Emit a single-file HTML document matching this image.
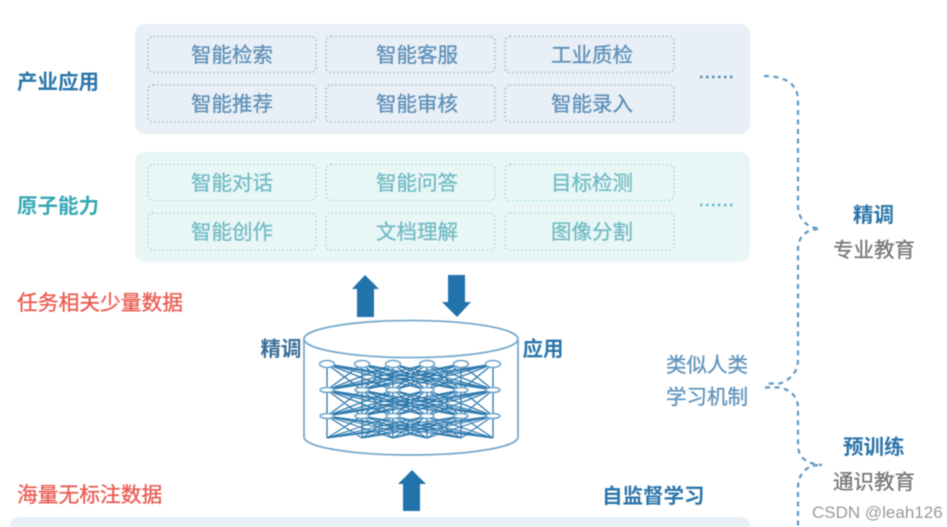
<!DOCTYPE html>
<html lang="zh"><head><meta charset="utf-8"><title>预训练与精调</title>
<style>
html,body{margin:0;padding:0;background:#fff;width:947px;height:527px;overflow:hidden}
svg{display:block;filter:blur(.5px)}
text{font-family:"Liberation Sans","Noto Sans CJK SC",sans-serif;font-size:20.5px;stroke-width:.3px}
.b{font-weight:700}
.m{text-anchor:middle}
.c1{fill:#5f90b8;stroke:#5f90b8}.c2{fill:#72bcc4;stroke:#72bcc4}
.blue{fill:#2c75ab}.teal{fill:#35a8b4}.red{fill:#ea5a50;stroke:#ea5a50;font-size:20.75px}.gray{fill:#777;stroke:#777}.lb{fill:#5f93bb;stroke:#5f93bb}
.cell1{fill:none;stroke:#9fbdd5;stroke-width:1.6;stroke-dasharray:1.5 2.5}
.cell2{fill:none;stroke:#a2dadd;stroke-width:1.6;stroke-dasharray:1.5 2.5}
.brace{fill:none;stroke:#6099c2;stroke-width:2.2;stroke-dasharray:5 4.500}
</style></head><body>
<svg width="947" height="527" viewBox="0 0 947 527" xmlns="http://www.w3.org/2000/svg">
<defs>
<path id="fan" fill="none" stroke="#2f7aae" stroke-width="1.300" d="M327 0L327 26M327 0L362 26M327 0L393 26M327 0L427 26M327 0L461 26M327 0L493 26M362 0L327 26M362 0L362 26M362 0L393 26M362 0L427 26M362 0L461 26M362 0L493 26M393 0L327 26M393 0L362 26M393 0L393 26M393 0L427 26M393 0L461 26M393 0L493 26M427 0L327 26M427 0L362 26M427 0L393 26M427 0L427 26M427 0L461 26M427 0L493 26M461 0L327 26M461 0L362 26M461 0L393 26M461 0L427 26M461 0L461 26M461 0L493 26M493 0L327 26M493 0L362 26M493 0L393 26M493 0L427 26M493 0L461 26M493 0L493 26"/>
</defs>
<rect width="947" height="527" fill="#fff"/>

<rect x="135" y="24" width="615" height="110" rx="10" fill="#e8eff6"/>
<rect x="135" y="152" width="615" height="110" rx="10" fill="#e9f6f6"/>
<rect x="10" y="517" width="740" height="20" rx="10" fill="#e8eff6"/>

<g class="cell1">
<rect x="148" y="36.500" width="168" height="36" rx="5"/><rect x="326" y="36.500" width="169" height="36" rx="5"/><rect x="505" y="36.500" width="169" height="36" rx="5"/>
<rect x="148" y="85" width="168" height="37" rx="5"/><rect x="326" y="85" width="169" height="37" rx="5"/><rect x="505" y="85" width="169" height="37" rx="5"/>
</g>
<g class="cell2">
<rect x="148" y="164.500" width="168" height="36" rx="5"/><rect x="326" y="164.500" width="169" height="36" rx="5"/><rect x="505" y="164.500" width="169" height="36" rx="5"/>
<rect x="148" y="213" width="168" height="37" rx="5"/><rect x="326" y="213" width="169" height="37" rx="5"/><rect x="505" y="213" width="169" height="37" rx="5"/>
</g>

<g class="c1 m">
<text x="232" y="62">智能检索</text><text x="417" y="62">智能客服</text><text x="592" y="62">工业质检</text>
<text x="232" y="111">智能推荐</text><text x="417" y="111">智能审核</text><text x="592" y="111">智能录入</text>
</g>
<g class="c2 m">
<text x="232" y="190">智能对话</text><text x="417" y="190">智能问答</text><text x="592" y="190">目标检测</text>
<text x="232" y="239">智能创作</text><text x="417" y="239">文档理解</text><text x="592" y="239">图像分割</text>
</g>

<line x1="700" y1="77" x2="735" y2="77" stroke="#5d87ab" stroke-width="2.500" stroke-dasharray="2.500 3.500"/>
<line x1="700" y1="205" x2="735" y2="205" stroke="#5fbcc8" stroke-width="2.500" stroke-dasharray="2.500 3.500"/>

<text class="b blue" x="17" y="89">产业应用</text>
<text class="b teal" x="17" y="213">原子能力</text>
<text class="red" x="17" y="310">任务相关少量数据</text>
<text class="red" x="17" y="502">海量无标注数据</text>

<path fill="#2273ab" d="M365 275L379 289H374V317H357V289H352Z"/>
<path fill="#2273ab" d="M448 275H465V302H471L457 317L442 302H448Z"/>
<path fill="#2273ab" d="M412 470L426 484H420V511H403V484H398Z"/>

<ellipse cx="411" cy="339" rx="107" ry="18.500" fill="#fff" stroke="#78aacd" stroke-width="1.800"/>
<path d="M304 339V437C304 447 352 455 411 455S518 447 518 437V339" fill="none" stroke="#78aacd" stroke-width="1.800"/>

<use href="#fan" y="364"/>
<use href="#fan" y="390"/>
<use href="#fan" transform="translate(0 416) scale(1 .85)"/>

<g fill="#fff" stroke="#6fa3c8" stroke-width="1.500">
<ellipse cx="327" cy="364" rx="7.500" ry="3.500"/><ellipse cx="362" cy="364" rx="7.500" ry="3.500"/><ellipse cx="393" cy="364" rx="7.500" ry="3.500"/><ellipse cx="427" cy="364" rx="7.500" ry="3.500"/><ellipse cx="461" cy="364" rx="7.500" ry="3.500"/><ellipse cx="493" cy="364" rx="7.500" ry="3.500"/>
<ellipse cx="327" cy="390" rx="7" ry="2.500"/><ellipse cx="362" cy="390" rx="7" ry="2.500"/><ellipse cx="393" cy="390" rx="7" ry="2.500"/><ellipse cx="427" cy="390" rx="7" ry="2.500"/><ellipse cx="461" cy="390" rx="7" ry="2.500"/><ellipse cx="493" cy="390" rx="7" ry="2.500"/>
<ellipse cx="327" cy="416" rx="7" ry="2.500"/><ellipse cx="362" cy="416" rx="7" ry="2.500"/><ellipse cx="393" cy="416" rx="7" ry="2.500"/><ellipse cx="427" cy="416" rx="7" ry="2.500"/><ellipse cx="461" cy="416" rx="7" ry="2.500"/><ellipse cx="493" cy="416" rx="7" ry="2.500"/>
</g>

<text class="b blue" x="260.500" y="356" style="fill:#3a6f97">精调</text>
<text class="b blue" x="522.500" y="356">应用</text>
<text class="b blue" x="602" y="503">自监督学习</text>

<text class="lb" x="666" y="372">类似人类</text>
<text class="lb" x="666" y="404">学习机制</text>

<path class="brace" d="M764 76C785 76 798 84 798 100V205C798 219 806 228 822 229"/>
<path class="brace" d="M818 229C806 230 798 236 798 250V360C798 372 790 380 780 383.500H765"/>
<path class="brace" d="M765 387.500H780C790 390 798 396 798 408V445C798 457 806 464 822 465"/>
<path class="brace" d="M818 465C806 466 798 474 798 488V527"/>

<text class="b blue" x="853" y="222">精调</text>
<text class="gray" x="833" y="257">专业教育</text>
<text class="b blue" x="843" y="454">预训练</text>
<text class="gray" x="833" y="489">通识教育</text>

<text x="812" y="518" fill="#9a9a9a" style="font-size:17px">CSDN @leah126</text>
</svg>
</body></html>
